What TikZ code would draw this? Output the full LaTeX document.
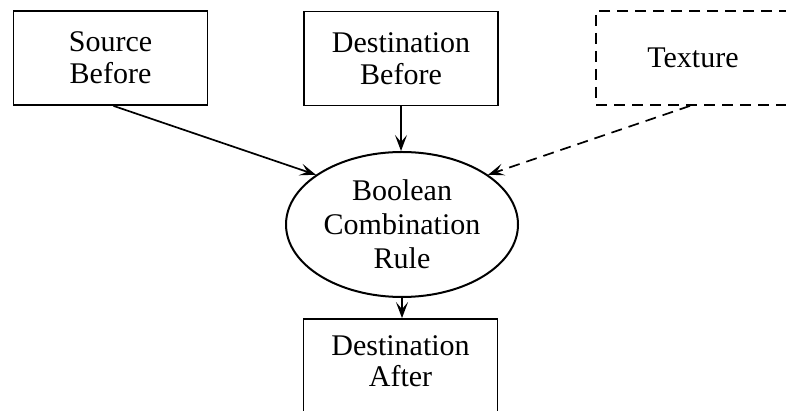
\documentclass[tikz,border=0pt]{standalone}
\usepackage{fontspec}
\setmainfont{Liberation Serif}
\usetikzlibrary{arrows.meta,shapes.geometric}
\begin{document}
\begin{tikzpicture}[x=1pt,y=-1pt,
  box/.style={draw,line width=1.8pt,rectangle,minimum width=194pt,minimum height=94pt,align=center,inner sep=0pt,font=\fontsize{30}{32}\selectfont},
  oval/.style={draw,line width=2pt,ellipse,minimum width=232pt,minimum height=145pt,align=center,inner sep=0pt,font=\fontsize{30}{34}\selectfont},
  conn/.style={line width=1.7pt,-{Stealth[length=16pt,width=12pt,inset=7pt]}},
  dconn/.style={conn,dash pattern=on 11pt off 7pt}]
\clip (0,0) rectangle (786,411);
\node[box] (src) at (110.5,58) {Source\\Before};
\node[box] (dstb) at (401,58.5) {Destination\\Before};
\node[box,dash pattern=on 11pt off 7pt] (tex) at (693,58) {Texture};
\node[oval] (bcr) at (402,224.5) {Boolean\\Combination\\Rule};
\node[box,minimum height=104pt,text depth=0pt] (dsta) at (400.5,371) {};
\node[font=\fontsize{30}{31}\selectfont,align=center] (dstat) at (400.5,361) {Destination\\After};
\draw[conn] ([xshift=3pt]src.south) -- (bcr.150);
\draw[conn] (dstb.south) -- (dstb.south |- bcr.north);
\draw[dconn] ([xshift=-3pt]tex.south) -- (bcr.30);
\draw[conn] (bcr.south) -- (bcr.south |- dsta.north);
\end{tikzpicture}
\end{document}
